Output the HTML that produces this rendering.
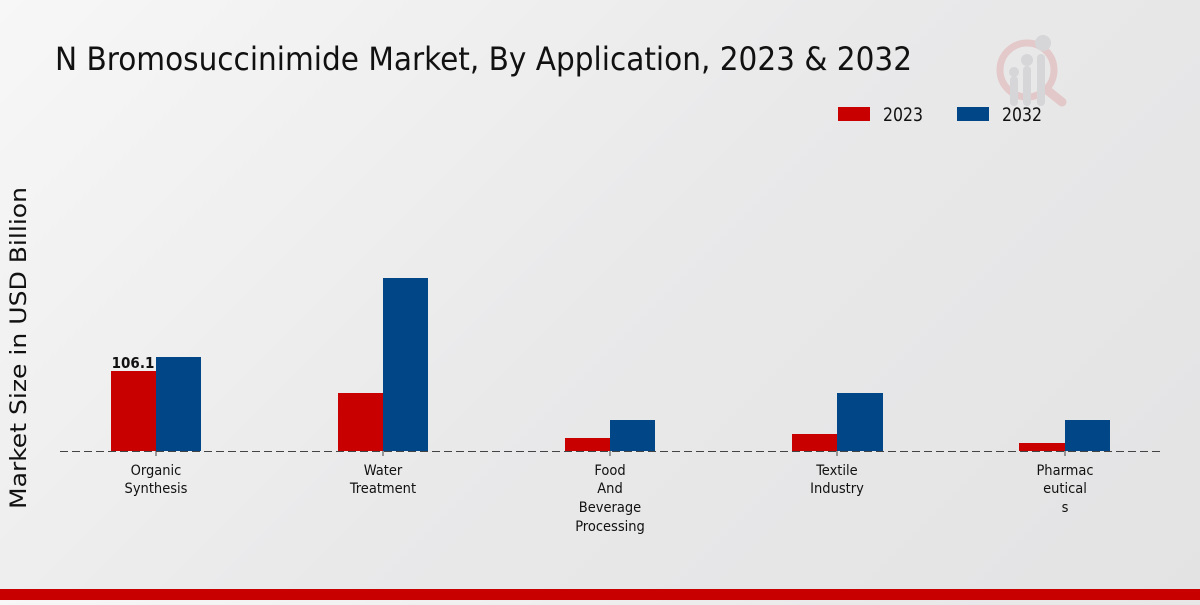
<!DOCTYPE html>
<html><head><style>
html,body{margin:0;padding:0;}
body{width:1200px;height:600px;overflow:hidden;background:linear-gradient(135deg,#f7f7f7 0%,#e9e9ea 50%,#e3e3e4 100%);}
text{font-family:"DejaVu Sans Condensed","DejaVu Sans","Liberation Sans",sans-serif;}
</style></head><body>
<svg width="1200" height="600" xmlns="http://www.w3.org/2000/svg">
<text x="55" y="70" font-size="32" fill="#111" textLength="857" lengthAdjust="spacingAndGlyphs">N Bromosuccinimide Market, By Application, 2023 &amp; 2032</text>
<g opacity="0.55">
<circle cx="1027" cy="70" r="27" fill="none" stroke="#e0b0b0" stroke-width="7"/>
<line x1="1047" y1="90" x2="1062" y2="102" stroke="#e0b0b0" stroke-width="9" stroke-linecap="round"/>
<rect x="1010" y="76" width="8" height="30" rx="4" fill="#c8c8cc"/>
<rect x="1023" y="66" width="8" height="40" rx="4" fill="#c8c8cc"/>
<rect x="1037" y="54" width="8" height="52" rx="4" fill="#c8c8cc"/>
<circle cx="1014" cy="72" r="5" fill="#c8c8cc"/><circle cx="1027" cy="60" r="6" fill="#c8c8cc"/><circle cx="1043" cy="43" r="8" fill="#c8c8cc"/>
</g>
<rect x="838" y="107" width="32" height="14" fill="#c80000"/>
<text x="883" y="121" font-size="19" fill="#111" textLength="40" lengthAdjust="spacingAndGlyphs">2023</text>
<rect x="957" y="107" width="32" height="14" fill="#014788"/>
<text x="1002" y="121" font-size="19" fill="#111" textLength="40" lengthAdjust="spacingAndGlyphs">2032</text>
<text transform="translate(26,348) rotate(-90)" font-size="22" fill="#111" text-anchor="middle" textLength="322" lengthAdjust="spacingAndGlyphs">Market Size in USD Billion</text>
<g>
<rect x="111" y="371" width="45" height="80" fill="#c80000"/><rect x="156" y="357" width="45" height="94" fill="#014788"/>
<rect x="338" y="393" width="45" height="58" fill="#c80000"/><rect x="383" y="278" width="45" height="173" fill="#014788"/>
<rect x="565" y="438" width="45" height="13" fill="#c80000"/><rect x="610" y="420" width="45" height="31" fill="#014788"/>
<rect x="792" y="434" width="45" height="17" fill="#c80000"/><rect x="837" y="393" width="46" height="58" fill="#014788"/>
<rect x="1019" y="443" width="46" height="8" fill="#c80000"/><rect x="1065" y="420" width="45" height="31" fill="#014788"/>
</g>
<line x1="60" y1="451.5" x2="1160" y2="451.5" stroke="#444" stroke-width="1" stroke-dasharray="8,4"/>
<g stroke="#444"><line x1="156" y1="451" x2="156" y2="456"/><line x1="383" y1="451" x2="383" y2="456"/><line x1="610" y1="451" x2="610" y2="456"/><line x1="837" y1="451" x2="837" y2="456"/><line x1="1065" y1="451" x2="1065" y2="456"/></g>
<text x="133" y="368" font-size="15" font-weight="bold" fill="#111" text-anchor="middle">106.1</text>
<g font-size="14.5" fill="#111" text-anchor="middle">
<text x="156" y="475">Organic</text><text x="156" y="493">Synthesis</text>
<text x="383" y="475">Water</text><text x="383" y="493">Treatment</text>
<text x="610" y="475">Food</text><text x="610" y="493">And</text><text x="610" y="512">Beverage</text><text x="610" y="531">Processing</text>
<text x="837" y="475">Textile</text><text x="837" y="493">Industry</text>
<text x="1065" y="475">Pharmac</text><text x="1065" y="493">eutical</text><text x="1065" y="512">s</text>
</g>
<rect x="0" y="589" width="1200" height="11" fill="#c80000"/>
</svg>
</body></html>
